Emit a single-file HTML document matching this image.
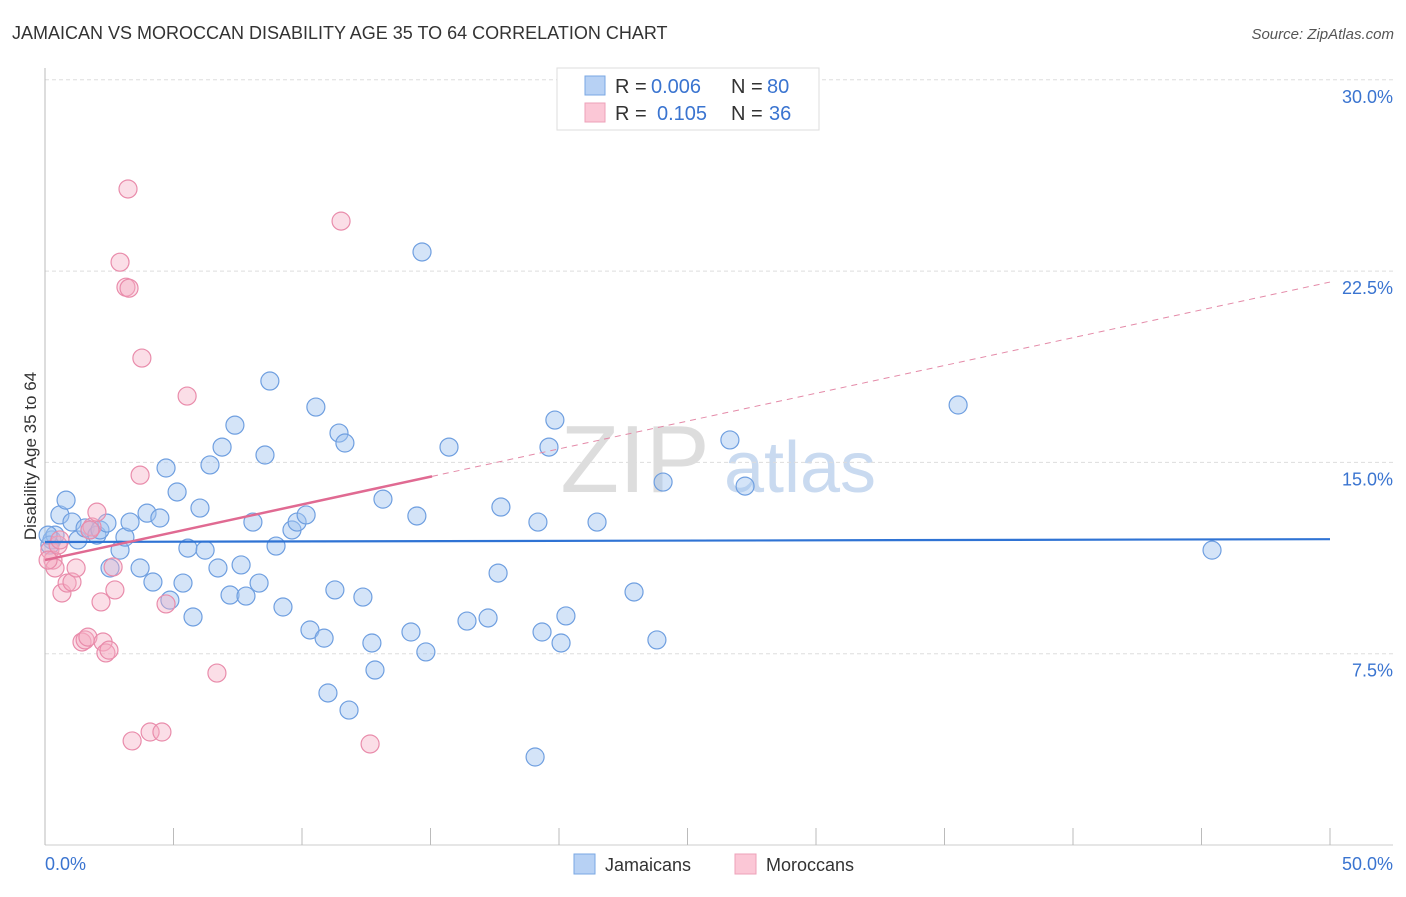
<!DOCTYPE html>
<html><head><meta charset="utf-8"><style>
body{margin:0;background:#fff;font-family:"Liberation Sans",sans-serif;}
svg text{font-family:"Liberation Sans",sans-serif;}
</style></head><body>
<svg id="c" width="1406" height="892">
<text x="12" y="39" font-size="18" fill="#333">JAMAICAN VS MOROCCAN DISABILITY AGE 35 TO 64 CORRELATION CHART</text>
<text x="1394" y="39" font-size="15" fill="#555" font-style="italic" text-anchor="end">Source: ZipAtlas.com</text>
<text x="36" y="456" font-size="17" fill="#333" text-anchor="middle" transform="rotate(-90 36 456)">Disability Age 35 to 64</text>
<g><text x="635" y="492" font-size="96" fill="#ddd" text-anchor="middle" font-family="Liberation Serif">ZIP</text><text x="800" y="492" font-size="72" fill="#c9daf0" text-anchor="middle">atlas</text></g>
<g id="grid"></g><g id="pts"></g><g id="lines"></g>
<g>
<rect x="557" y="68" width="262" height="62" fill="#fff" stroke="#ddd"/>
<rect x="585" y="76" width="20" height="19" fill="#b7d1f4" stroke="#7aa7e3"/>
<rect x="585" y="103" width="20" height="19" fill="#fbc7d6" stroke="#eea0b8"/>
<g font-size="20">
<text x="615" y="93" fill="#333">R =</text><text x="651" y="93" fill="#3a74d0">0.006</text><text x="731" y="93" fill="#333">N =</text><text x="767" y="93" fill="#3a74d0">80</text></g>
<g font-size="20">
<text x="615" y="120" fill="#333">R =</text><text x="657" y="120" fill="#3a74d0">0.105</text><text x="731" y="120" fill="#333">N =</text><text x="769" y="120" fill="#3a74d0">36</text></g>
</g>
<g>
<rect x="574" y="854" width="21" height="20" fill="#b7d1f4" stroke="#7aa7e3"/>
<text x="605" y="871" font-size="18" fill="#333">Jamaicans</text>
<rect x="735" y="854" width="21" height="20" fill="#fbc7d6" stroke="#eea0b8"/>
<text x="766" y="871" font-size="18" fill="#333">Moroccans</text>
</g>
</svg>
<script>
const yTicks=[7.5,15,22.5,30];
const yTickLabels=["7.5%","15.0%","22.5%","30.0%"];
const xTicks=[0,5,10,15,20,25,30,35,40,45,50];
const xEndLabels=["0.0%","50.0%"];
const jamX=[0.27,0.39,0.58,0.82,1.05,1.28,1.56,1.75,2.02,2.14,2.41,2.92,3.11,2.53,3.31,3.70,3.97,4.20,4.47,4.71,4.86,5.14,5.37,5.56,5.76,6.03,6.23,6.42,6.73,6.89,7.20,7.39,7.63,7.82,8.09,8.33,8.56,8.75,8.99,9.26,9.61,9.81,10.16,10.31,10.54,10.86,11.01,11.28,11.44,11.67,11.83,12.37,12.72,12.84,13.15,14.24,14.47,14.82,14.67,15.72,16.42,17.24,17.63,17.74,19.07,19.18,19.34,19.61,19.84,20.08,20.27,21.48,22.92,23.81,24.05,26.65,27.24,35.53,45.41,0.19,0.12];
const jamY=[11.96,12.15,12.94,13.52,12.66,11.96,12.43,12.35,12.15,12.35,12.62,11.56,12.07,10.86,12.66,10.86,13.01,10.31,12.82,14.78,9.60,13.84,10.27,11.64,8.94,13.21,11.56,14.90,10.86,15.60,9.80,16.46,10.98,9.76,12.66,10.27,15.29,18.19,11.72,9.33,12.35,12.66,12.94,8.43,17.17,8.11,5.96,10.00,16.15,15.76,5.29,9.72,7.92,6.86,13.56,8.35,12.90,7.57,23.25,15.60,8.78,8.90,10.66,13.25,3.45,12.66,8.35,15.60,16.66,7.92,8.98,12.66,9.92,8.04,14.23,15.88,14.07,17.25,11.56,11.76,12.15];
const morX=[0.19,0.31,0.39,0.51,0.66,0.86,1.05,1.21,1.44,1.56,1.67,1.83,2.02,2.18,2.26,2.37,2.49,2.72,2.65,2.92,3.15,3.23,3.27,3.39,3.70,3.77,4.09,4.55,4.71,5.53,6.69,11.52,12.65,1.75,0.58,0.12];
const morY=[11.56,11.17,10.86,11.76,9.88,10.27,10.31,10.86,7.96,8.04,8.15,12.47,13.05,9.53,7.96,7.53,7.64,10.00,10.90,22.85,21.87,25.72,21.83,4.08,14.50,19.09,4.43,4.43,9.45,17.60,6.74,24.46,3.96,12.35,11.96,11.17];
const jamTrend=[11.88,11.99];
const morTrend=[11.17,22.07];
const morSolidEnd=15.06;

const NS="http://www.w3.org/2000/svg";
const X0=45,X1=1330,Y0=845,PX_PER=191.3/7.5;
const sx=v=>X0+(v/50)*(X1-X0);
const sy=v=>Y0-v*PX_PER;
function mk(t,a,p){const e=document.createElementNS(NS,t);for(const k in a)e.setAttribute(k,a[k]);p.appendChild(e);return e;}
const g=document.getElementById('grid');
yTicks.forEach((t,i)=>{
 const l=mk('line',{x1:X0,x2:1393,y1:sy(t),y2:sy(t),stroke:'#ddd','stroke-dasharray':'4,3'},g);
 
 
 const tx=mk('text',{x:1393,y:sy(t)+23,'font-size':18,fill:'#3a74d0','text-anchor':'end'},g);
 tx.textContent=yTickLabels[i];
 
 
});
const ax=mk('line',{x1:X0,x2:X0,y1:68,y2:Y0,stroke:'#bbb'},g);


const bx=mk('line',{x1:X0,x2:1393,y1:Y0,y2:Y0,stroke:'#ccc'},g);


xTicks.forEach(t=>{
 const l=mk('line',{x1:sx(t),x2:sx(t),y1:828,y2:Y0,stroke:'#bbb'},g);
 
 
});
const xl0=mk('text',{x:45,y:870,'font-size':18,fill:'#3a74d0'},g);xl0.textContent=xEndLabels[0];


const xl1=mk('text',{x:1393,y:870,'font-size':18,fill:'#3a74d0','text-anchor':'end'},g);xl1.textContent=xEndLabels[1];


const P=document.getElementById('pts');
jamX.forEach((x,i)=>{
 const c=mk('circle',{cx:sx(x),cy:sy(jamY[i]),r:9,fill:'rgba(160,196,240,0.45)',stroke:'#6f9fe0','stroke-width':1.2},P);
 
 
});
morX.forEach((x,i)=>{
 const c=mk('circle',{cx:sx(x),cy:sy(morY[i]),r:9,fill:'rgba(246,172,196,0.4)',stroke:'#e98cab','stroke-width':1.2},P);
 
 
});
const L=document.getElementById('lines');
const jl=mk('line',{x1:sx(0),y1:sy(jamTrend[0]),x2:sx(50),y2:sy(jamTrend[1]),stroke:'#2f73d4','stroke-width':2.2},L);


const mAt=x=>morTrend[0]+(morTrend[1]-morTrend[0])*x/50;
const ms=mk('line',{x1:sx(0),y1:sy(mAt(0)),x2:sx(morSolidEnd),y2:sy(mAt(morSolidEnd)),stroke:'#e06a92','stroke-width':2.5},L);


const md=mk('line',{x1:sx(morSolidEnd),y1:sy(mAt(morSolidEnd)),x2:sx(50),y2:sy(mAt(50)),stroke:'#e48aa8','stroke-width':1,'stroke-dasharray':'6,5'},L);


</script>
</body></html>
